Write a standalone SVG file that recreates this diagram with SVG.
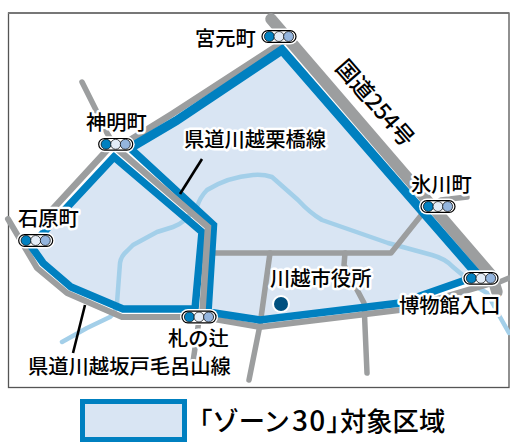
<svg xmlns="http://www.w3.org/2000/svg" width="510" height="443" viewBox="0 0 510 443">
<style>
text{font-family:"Noto Sans CJK JP","Noto Sans",sans-serif;font-size:20.3px;font-weight:500;fill:#000;stroke:#fff;stroke-width:5px;paint-order:stroke;stroke-linejoin:round}
.r{fill:none;stroke:#9c9e9f;stroke-width:5.5;stroke-linecap:round;stroke-linejoin:round}
.m{stroke-width:6.5;stroke-linecap:butt;stroke-linejoin:miter}
.b{fill:none;stroke:#0080c0;stroke-width:7.5;stroke-linejoin:miter}
.w{fill:none;stroke:#a3cfe9;stroke-width:4.5;stroke-linecap:round;stroke-linejoin:round}
.l{stroke:#000;stroke-width:2.6;fill:none}
</style>
<defs>
<g id="sig">
<rect x="-19" y="-8" width="38" height="16" rx="8" fill="#fff"/>
<rect x="-17" y="-5.8" width="34" height="11.6" rx="5.8" fill="#fff" stroke="#000" stroke-width="1.2"/>
<circle cx="-9.6" r="5" fill="#0080c0" stroke="#000" stroke-width=".7"/>
<circle cx="0" r="5" fill="#e3ecf7" stroke="#000" stroke-width=".7"/>
<circle cx="9.6" r="5" fill="#94b5de" stroke="#000" stroke-width=".7"/>
</g>
</defs>
<rect x="8.5" y="13" width="500.5" height="374.5" fill="#fff" stroke="#555" stroke-width="1.3"/>
<path d="M8,13H509" stroke="#777" stroke-width="2" fill="none"/>
<g id="zone">
<polygon points="282,50 477,274 400,303 260,320 208,312 213.5,225 130,148 176,121" fill="#d9e5f3"/>
<polygon points="114,157 202,232 195,309 123,309 71,287 43,263 31,246" fill="#d9e5f3"/>
</g>
<g id="rivers">
<path class="w" d="M62,342L87,328L110,317Q116,312 117,303L120,263Q121,256 127,251L133,245L157,232L173,227Q179,225 185,220L197,207Q200,197 207,190Q228,177 253,175Q263,174 272,177L298,200Q310,213 322,220L388,243L432,255Q446,259 453,267L477,287L487,293L500,317L509,333"/>
</g>
<g id="connectors">
<path class="r" d="M82,82L97,112L107,133L115,146"/>
<path class="r" d="M212,253H391L423,213L441,200L467,197"/>
<path class="r" d="M270,253L260,325L249,380"/>
<path class="r" d="M345,253L344,265L364,303L367,373"/>
<path class="r" d="M199,320L193,362"/>
<path class="r" d="M497,283L509,278"/>
<path class="r" style="stroke-width:6" d="M8,219L37,268L67,293L122,317H202L260,327L400,310L492,283"/>
<path class="r" style="stroke-width:6.5" d="M50,212L108,149L130,140L172,114L283,42"/>
<path class="r" style="stroke-width:11.5" d="M271,19L492,276L497,292"/>
<path class="b" style="stroke-width:9" d="M130,148L176,121L282,50L477,274"/>
<path class="b" d="M477,276L400,303L260,320L208,312L213.5,225L130,148"/>
<path class="b" d="M114,157L202,232L195,309H123L71,287L43,263L31,246Z"/>
<path class="r m" d="M115,147L208,227L202,318"/>
<path class="l" d="M202,159L180,194"/>
<path class="l" d="M85,305L73,353"/>
</g>
<g id="n-miyamoto"><use href="#sig" x="279" y="36.5"/><text x="195" y="46">宮元町</text></g>
<g id="n-shinmei"><use href="#sig" x="115.7" y="144.3"/><text x="86" y="130">神明町</text></g>
<g id="n-ishihara"><use href="#sig" x="35.7" y="240.5"/><text x="18" y="226">石原町</text></g>
<g id="n-hikawa"><use href="#sig" x="438" y="206.5"/><text x="411" y="192">氷川町</text></g>
<g id="n-fudanotsuji"><use href="#sig" x="199" y="317"/><text x="168" y="346">札の辻</text></g>
<g id="n-museum"><use href="#sig" x="481" y="278.3"/><text x="399" y="313">博物館入口</text></g>
<g id="n-cityhall"><circle cx="281" cy="304" r="9" fill="#fff"/><circle cx="281" cy="304" r="7" fill="#00507f"/><text x="270" y="286">川越市役所</text></g>
<g id="labels">
<text x="184" y="147">県道川越栗橋線</text>
<text x="28" y="374">県道川越坂戸毛呂山線</text>
<text transform="translate(375 103) rotate(49)" text-anchor="middle" y="8" style="stroke:none;font-size:22.5px">国道254号</text>
</g>
<g id="legend">
<rect x="82.5" y="401.5" width="102" height="38" fill="#d9e5f3" stroke="#0080c0" stroke-width="5"/>
<text x="199" y="431" style="font-size:26.3px;stroke:none;font-feature-settings:'palt';letter-spacing:1.4px">「ゾーン<tspan x="292" style="font-size:28px">30</tspan>」<tspan x="340" style="letter-spacing:0">対象区域</tspan></text>
</g>
</svg>
